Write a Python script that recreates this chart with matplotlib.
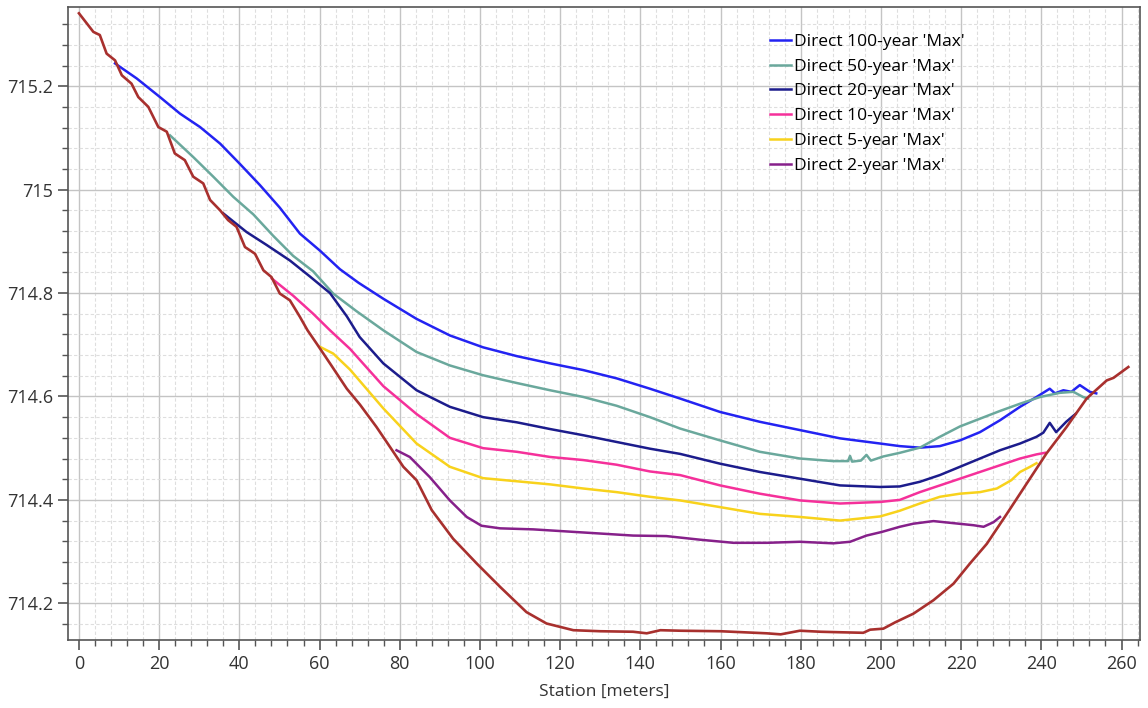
import matplotlib
matplotlib.use('Agg')
import matplotlib.pyplot as plt
from matplotlib.ticker import MultipleLocator

# ground profile (terrain)
ground_x = [0, 3.6, 5.2, 6.9, 9.0, 10.7, 13.1, 14.8, 17.3, 19.8, 21.9, 23.9, 26.4, 28.5,
            31.0, 32.7, 35.2, 37.2, 39.3, 41.4, 43.9, 46.0, 48.0, 50.1, 52.6, 55.1, 57.0,
            59.3, 62.6, 66.8, 70.1, 74.2, 77.6, 80.9, 84.2, 88.0, 93.3, 99.2, 105.0, 111.6,
            116.6, 123.3, 130, 138.2, 141.6, 145, 150, 160, 171.5, 175, 179.8, 185, 190,
            195.6, 197.3, 200.6, 203.5, 208.1, 213.1, 218.1, 222.2, 226.4, 231.4, 236.3,
            241.3, 246.3, 251.3, 256.3, 258, 261.7]
ground_z = [715.341, 715.305, 715.299, 715.263, 715.25, 715.221, 715.205, 715.179, 715.16,
            715.121, 715.112, 715.07, 715.057, 715.025, 715.012, 714.98, 714.96, 714.941,
            714.928, 714.889, 714.876, 714.844, 714.831, 714.799, 714.786, 714.754, 714.728,
            714.702, 714.664, 714.615, 714.584, 714.541, 714.502, 714.464, 714.438, 714.38,
            714.325, 714.277, 714.232, 714.183, 714.161, 714.148, 714.146, 714.145, 714.142,
            714.148, 714.147, 714.146, 714.142, 714.14, 714.147, 714.145, 714.144, 714.143,
            714.149, 714.151, 714.163, 714.18, 714.206, 714.238, 714.277, 714.315, 714.373,
            714.431, 714.49, 714.541, 714.596, 714.631, 714.636, 714.657]

# water surface, 100-year
y100_x = [9.0, 14.4, 20.2, 25.2, 30.2, 35.2, 40.1, 45.1, 50.1, 55.1, 60.1, 65.1, 69.7, 75.9,
          84.2, 92.5, 100.8, 109.2, 117.5, 125.8, 134.1, 142.4, 149.9, 159.9, 169.8, 179.8,
          189.8, 199.8, 204.7, 209.7, 214.7, 219.7, 224.7, 229.7, 234.7, 238.8, 242.1, 243.4,
          245.5, 247.5, 249.6, 252.1, 253.7]
y100_z = [715.244, 715.215, 715.179, 715.147, 715.121, 715.089, 715.05, 715.009, 714.965,
          714.915, 714.882, 714.846, 714.82, 714.789, 714.75, 714.718, 714.695, 714.678,
          714.664, 714.651, 714.635, 714.615, 714.596, 714.57, 714.551, 714.535, 714.519,
          714.509, 714.504, 714.501, 714.504, 714.515, 714.531, 714.554, 714.58, 714.599,
          714.615, 714.606, 714.612, 714.609, 714.622, 714.609, 714.606]

# 50-year
y50_x = [22.7, 28.5, 33.5, 38.5, 43.5, 48.4, 53.4, 58.4, 63.4, 69.2, 75.9, 84.2, 92.5, 100.8,
         109.2, 117.5, 125.8, 134.1, 142.4, 149.9, 159.9, 169.8, 179.8, 188.1, 191.8, 192.3,
         192.8, 195, 196.4, 197.5, 200.6, 204.7, 209.7, 214.7, 219.7, 224.7, 229.7, 234.7,
         239.7, 244.6, 248, 250.4, 251.6]
y50_z = [715.105, 715.063, 715.025, 714.986, 714.952, 714.911, 714.872, 714.842, 714.799,
         714.765, 714.728, 714.686, 714.66, 714.641, 714.626, 714.612, 714.599, 714.582,
         714.56, 714.538, 714.515, 714.493, 714.48, 714.475, 714.475, 714.485, 714.474,
         714.476, 714.487, 714.476, 714.484, 714.491, 714.501, 714.522, 714.542, 714.557,
         714.572, 714.586, 714.599, 714.607, 714.609, 714.599, 714.596]

# 20-year
y20_x = [36.0, 41.8, 46.8, 52.6, 57.6, 62.6, 66.8, 70.0, 75.9, 84.2, 92.5, 100.8, 109.2, 117.5,
         125.8, 134.1, 142.4, 149.9, 159.9, 169.8, 179.8, 189.8, 199.8, 204.7, 209.7, 214.7,
         219.7, 224.7, 229.7, 234.7, 238.8, 240.5, 242.1, 243.7, 246.2, 248.5]
y20_z = [714.954, 714.918, 714.893, 714.863, 714.832, 714.8, 714.755, 714.715, 714.664,
         714.612, 714.58, 714.56, 714.55, 714.537, 714.525, 714.512, 714.499, 714.489,
         714.47, 714.454, 714.441, 714.428, 714.425, 714.426, 714.435, 714.448, 714.464,
         714.48, 714.496, 714.509, 714.522, 714.53, 714.549, 714.531, 714.551, 714.566]

# 10-year
y10_x = [48.1, 53.4, 58.4, 62.6, 67.6, 75.9, 84.2, 92.5, 100.8, 109.2, 117.5, 125.8, 134.1,
         142.4, 149.9, 159.9, 169.8, 179.8, 189.8, 199.8, 204.7, 209.7, 214.7, 219.7, 224.7,
         229.7, 234.7, 238.8, 240.9]
y10_z = [714.828, 714.795, 714.76, 714.728, 714.692, 714.62, 714.566, 714.52, 714.5, 714.493,
         714.483, 714.477, 714.468, 714.455, 714.448, 714.428, 714.412, 714.399, 714.393,
         714.396, 714.4, 714.415, 714.428, 714.441, 714.454, 714.467, 714.48, 714.488, 714.491]

# 5-year
y5_x = [60.1, 63.4, 67.6, 75.9, 84.2, 92.5, 100.8, 109.2, 117.5, 125.8, 134.1, 142.4, 149.9,
        159.9, 169.8, 179.8, 189.8, 199.8, 204.7, 209.7, 214.7, 219.7, 224.7, 228.9, 232.5,
        234.7, 237.2, 238.8]
y5_z = [714.696, 714.683, 714.652, 714.577, 714.509, 714.464, 714.442, 714.436, 714.43,
        714.422, 714.415, 714.406, 714.399, 714.386, 714.373, 714.367, 714.36, 714.368,
        714.379, 714.393, 714.406, 714.412, 714.415, 714.422, 714.438, 714.454, 714.464, 714.471]

# 2-year
y2_x = [79.2, 82.5, 87.5, 92.5, 96.7, 100.4, 105, 113.3, 121.6, 129.9, 138.2, 146.5, 154.9,
        163.2, 171.5, 179.8, 188.1, 192.3, 196.4, 200.2, 204.7, 208.1, 213.1, 218.1, 223.1,
        225.6, 228.1, 229.7]
y2_z = [714.496, 714.483, 714.444, 714.399, 714.367, 714.35, 714.345, 714.343, 714.339,
        714.335, 714.331, 714.33, 714.323, 714.317, 714.317, 714.319, 714.316, 714.319,
        714.331, 714.338, 714.348, 714.354, 714.359, 714.355, 714.351, 714.348, 714.357, 714.367]

labels = ["Direct 100-year 'Max'", "Direct 50-year 'Max'", "Direct 20-year 'Max'",
          "Direct 10-year 'Max'", "Direct 5-year 'Max'", "Direct 2-year 'Max'"]
colors = ['#2323f2', '#6aa89c', '#1c1c8c', '#f5309a', '#f8d21c', '#86208a']

plt.rcParams['font.family'] = ['Open Sans', 'DejaVu Sans']

fig = plt.figure(figsize=(11.48, 7.08), dpi=100)
ax = fig.add_axes([0.0592, 0.096, 0.9338, 0.894])

series = [(y100_x, y100_z), (y50_x, y50_z), (y20_x, y20_z),
          (y10_x, y10_z), (y5_x, y5_z), (y2_x, y2_z)]
for (sx, sz), lab, col in zip(series, labels, colors):
    ax.plot(sx, sz, color=col, linewidth=1.8, label=lab, zorder=3)

ax.plot(ground_x, ground_z, color='#a8302e', linewidth=1.9, zorder=4)

ax.set_xlim(-2.74, 264.6)
ax.set_ylim(714.129, 715.353)
ax.xaxis.set_major_locator(MultipleLocator(20))
ax.xaxis.set_minor_locator(MultipleLocator(4))
ax.yaxis.set_major_locator(MultipleLocator(0.2))
ax.yaxis.set_minor_locator(MultipleLocator(0.04))
ax.yaxis.set_major_formatter(matplotlib.ticker.FuncFormatter(lambda v, p: f'{v:g}'))

ax.grid(True, which='major', color='#c4c4c4', linewidth=1.0, zorder=0)
ax.grid(True, which='minor', color='#dedede', linewidth=0.8, linestyle=(0, (3, 2)), zorder=0)
ax.set_axisbelow(True)

for side in ['left', 'bottom', 'right', 'top']:
    ax.spines[side].set_color('#555555')
    ax.spines[side].set_linewidth(1.2)

ax.tick_params(which='major', direction='out', length=7, width=1.2, color='#555555',
               labelsize=13, labelcolor='#333333')
ax.tick_params(which='minor', direction='out', length=4, width=1.0, color='#555555')

ax.set_xlabel('Station [meters]', fontsize=12.5, color='#333333', labelpad=8)

ax.legend(loc='upper left', bbox_to_anchor=(0.655, 0.958), frameon=False, fontsize=12.5,
          handlelength=1.2, handletextpad=0.2, labelspacing=0.5, borderpad=0,
          borderaxespad=0)

fig.savefig('out.png', dpi=100)
